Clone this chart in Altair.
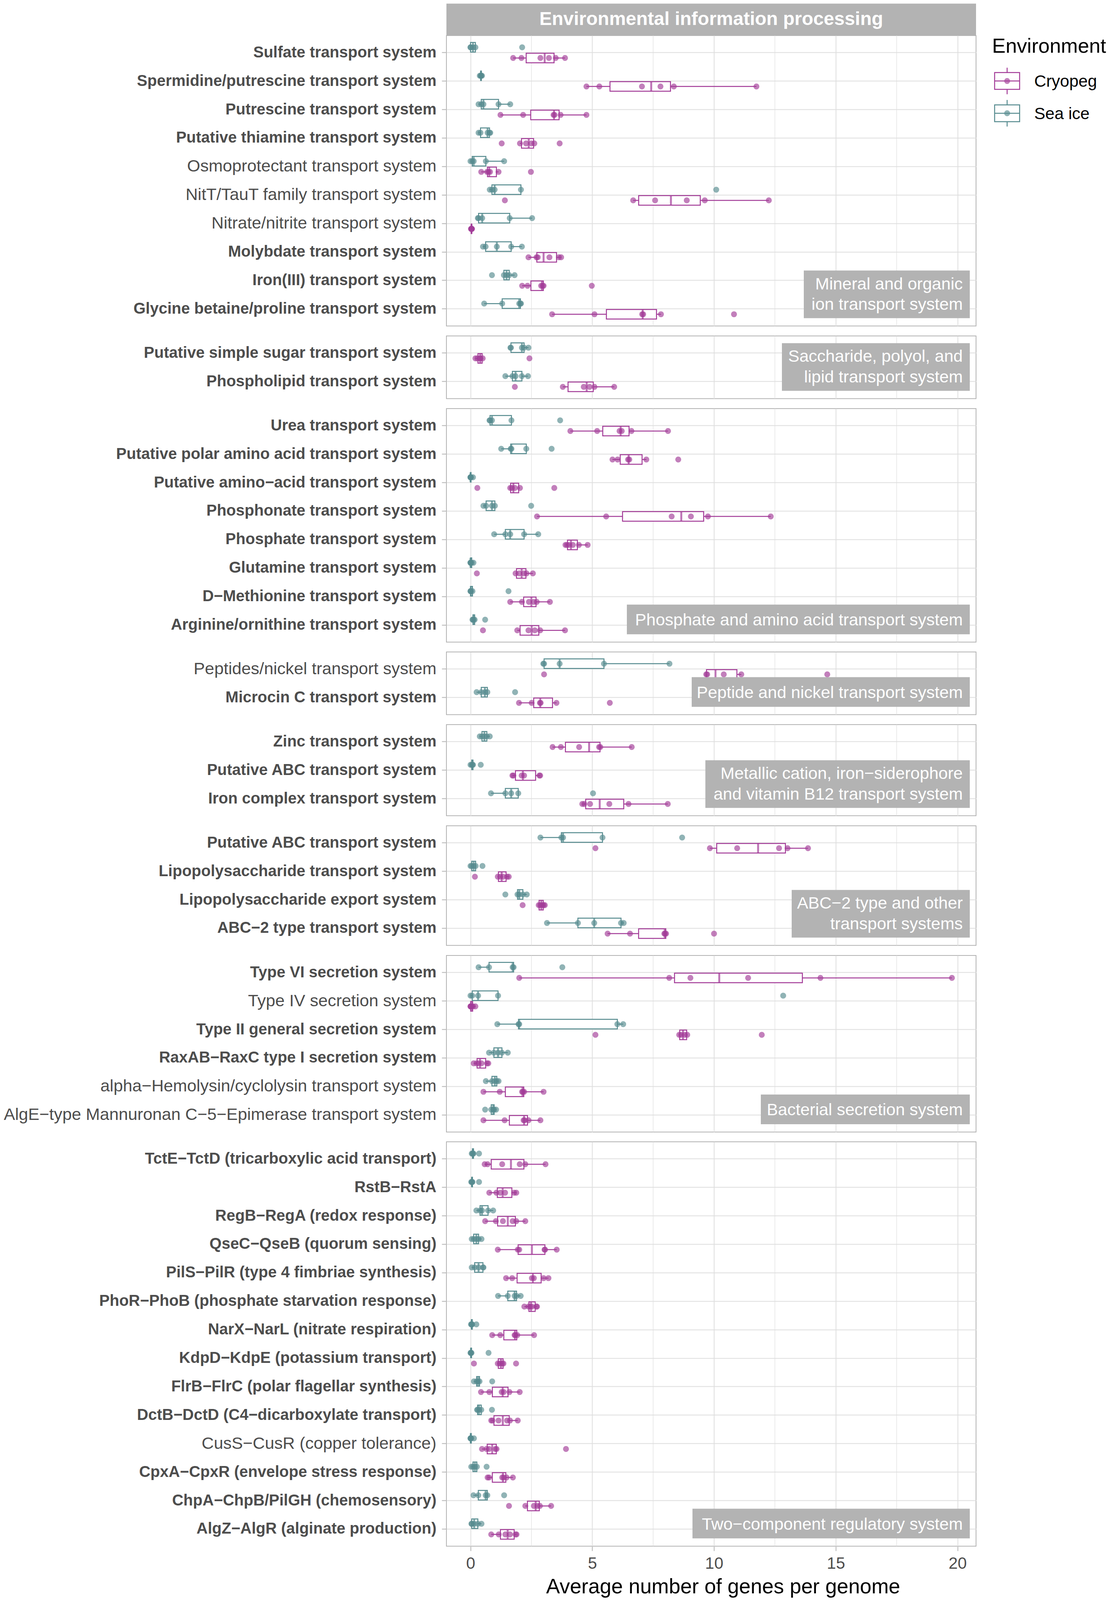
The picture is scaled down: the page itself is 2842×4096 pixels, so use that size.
import json
import numpy as np
import pandas as pd
import altair as alt

# ---------------- data ----------------
ENVS = ["Cryopeg", "Sea ice"]
ENV_COLORS = ["#A33C98", "#568B8F"]
X_TICKS = [0, 5, 10, 15, 20]
X_MINOR = [2.5, 7.5, 12.5, 17.5]
X_TITLE = "Average number of genes per genome"
HEADER = "Environmental information processing"
LEGEND_TITLE = "Environment"

p1_label = ["Mineral and organic", "ion transport system"]
p1_terms = ["Sulfate transport system", "Spermidine/putrescine transport system",
            "Putrescine transport system", "Putative thiamine transport system",
            "Osmoprotectant transport system", "NitT/TauT family transport system",
            "Nitrate/nitrite transport system", "Molybdate transport system",
            "Iron(III) transport system", "Glycine betaine/proline transport system"]
p1_cryopeg = [[1.75, 2.09, 2.87, 3.22, 3.50, 3.88], [4.76, 5.29, 7.04, 7.80, 8.35, 11.74],
              [1.23, 2.16, 3.41, 3.45, 3.70, 4.76], [1.28, 2.03, 2.28, 2.50, 2.62, 3.66],
              [0.44, 0.68, 0.74, 0.80, 1.15, 2.48], [1.41, 6.68, 7.58, 8.88, 9.62, 12.25],
              [0.02, 0.03, 0.04, 0.04, 0.05, 0.06], [2.38, 2.71, 2.76, 3.24, 3.63, 3.72],
              [2.12, 2.34, 2.90, 2.96, 3.00, 4.98], [3.35, 5.09, 7.05, 7.09, 7.82, 10.82]]
p1_seaice = [[0.0, 0.0, 0.10, 0.20, 2.12], [0.38, 0.42, 0.43, 0.44, 0.47],
             [0.33, 0.44, 0.53, 1.15, 1.63], [0.33, 0.41, 0.70, 0.78, 0.81],
             [0.0, 0.07, 0.13, 0.63, 1.38], [0.79, 0.88, 0.99, 2.07, 10.09],
             [0.30, 0.33, 0.48, 1.61, 2.53], [0.51, 0.62, 1.08, 1.67, 2.11],
             [0.88, 1.37, 1.48, 1.59, 1.81], [0.56, 1.30, 2.00, 2.05, 2.07]]

p2_label = ["Saccharide, polyol, and", "lipid transport system"]
p2_terms = ["Putative simple sugar transport system", "Phospholipid transport system"]
p2_cryopeg = [[0.20, 0.28, 0.38, 0.41, 0.50, 2.42], [1.82, 3.79, 4.65, 4.89, 5.09, 5.90]]
p2_seaice = [[1.64, 1.66, 2.11, 2.20, 2.38], [1.43, 1.72, 1.85, 2.11, 2.36]]

p3_label = ["Phosphate and amino acid transport system"]
p3_terms = ["Urea transport system", "Putative polar amino acid transport system",
            "Putative amino\u2212acid transport system", "Phosphonate transport system",
            "Phosphate transport system", "Glutamine transport system",
            "D\u2212Methionine transport system", "Arginine/ornithine transport system"]
p3_cryopeg = [[4.10, 5.20, 6.12, 6.21, 6.61, 8.11], [5.83, 6.04, 6.47, 6.52, 7.22, 8.53],
              [0.28, 1.63, 1.70, 1.82, 2.03, 3.44], [2.73, 5.57, 8.26, 9.05, 9.75, 12.33],
              [3.90, 3.96, 4.05, 4.20, 4.45, 4.81], [0.26, 1.85, 2.00, 2.20, 2.30, 2.56],
              [1.63, 2.11, 2.40, 2.60, 2.72, 3.26], [0.51, 1.92, 2.38, 2.64, 2.86, 3.88]]
p3_seaice = [[0.78, 0.80, 0.88, 1.68, 3.68], [1.26, 1.65, 1.68, 2.29, 3.33],
             [0.0, 0.0, 0.0, 0.02, 0.10], [0.53, 0.64, 0.88, 1.00, 2.49],
             [0.97, 1.43, 1.63, 2.20, 2.78], [0.0, 0.0, 0.0, 0.05, 0.12],
             [0.0, 0.0, 0.02, 0.08, 1.56], [0.08, 0.10, 0.13, 0.17, 0.60]]

p4_label = ["Peptide and nickel transport system"]
p4_terms = ["Peptides/nickel transport system", "Microcin C transport system"]
p4_cryopeg = [[3.02, 9.68, 9.72, 10.40, 11.12, 14.65], [1.99, 2.51, 2.85, 2.88, 3.53, 5.72]]
p4_seaice = [[2.99, 3.02, 3.66, 5.48, 8.17], [0.25, 0.44, 0.59, 0.69, 1.83]]

p5_label = ["Metallic cation, iron\u2212siderophore", "and vitamin B12 transport system"]
p5_terms = ["Zinc transport system", "Putative ABC transport system",
            "Iron complex transport system"]
p5_cryopeg = [[3.37, 3.71, 4.46, 5.28, 5.33, 6.62], [1.72, 1.76, 2.10, 2.20, 2.83, 2.86],
              [4.59, 4.67, 4.91, 5.70, 6.49, 8.10]]
p5_seaice = [[0.38, 0.47, 0.57, 0.67, 0.79], [0.0, 0.05, 0.08, 0.10, 0.42],
             [0.84, 1.43, 1.67, 1.96, 5.03]]

p6_label = ["ABC\u22122 type and other", "transport systems"]
p6_terms = ["Putative ABC transport system", "Lipopolysaccharide transport system",
            "Lipopolysaccharide export system", "ABC\u22122 type transport system"]
p6_cryopeg = [[5.13, 9.83, 10.95, 12.67, 13.02, 13.86], [0.18, 1.12, 1.22, 1.34, 1.50, 1.57],
              [2.14, 2.80, 2.86, 2.95, 3.00, 3.05], [5.63, 6.55, 7.96, 7.99, 8.03, 10.00]]
p6_seaice = [[2.87, 3.73, 3.80, 5.42, 8.69], [0.0, 0.05, 0.13, 0.21, 0.49],
             [1.43, 1.93, 2.00, 2.15, 2.31], [3.14, 4.41, 5.08, 6.18, 6.29]]

p7_label = ["Bacterial secretion system"]
p7_terms = ["Type VI secretion system", "Type IV secretion system",
            "Type II general secretion system", "RaxAB\u2212RaxC type I secretion system",
            "alpha\u2212Hemolysin/cyclolysin transport system",
            "AlgE\u2212type Mannuronan C\u22125\u2212Epimerase transport system"]
p7_cryopeg = [[2.00, 8.16, 9.03, 11.40, 14.37, 19.77], [0.0, 0.0, 0.02, 0.05, 0.10, 0.20],
              [5.13, 8.57, 8.65, 8.80, 8.90, 11.96], [0.13, 0.25, 0.33, 0.45, 0.68, 0.73],
              [0.53, 1.20, 2.12, 2.15, 2.20, 3.00], [0.53, 1.40, 2.18, 2.22, 2.38, 2.87]]
p7_seaice = [[0.33, 0.76, 1.73, 1.77, 3.77], [0.0, 0.07, 0.31, 1.13, 12.84],
             [1.10, 1.97, 2.00, 6.03, 6.27], [0.76, 0.96, 1.13, 1.29, 1.53],
             [0.63, 0.88, 1.00, 1.08, 1.15], [0.60, 0.85, 0.93, 0.97, 1.05]]

p8_label = ["Two\u2212component regulatory system"]
p8_terms = ["TctE\u2212TctD (tricarboxylic acid transport)", "RstB\u2212RstA",
            "RegB\u2212RegA (redox response)", "QseC\u2212QseB (quorum sensing)",
            "PilS\u2212PilR (type 4 fimbriae synthesis)",
            "PhoR\u2212PhoB (phosphate starvation response)",
            "NarX\u2212NarL (nitrate respiration)", "KdpD\u2212KdpE (potassium transport)",
            "FlrB\u2212FlrC (polar flagellar synthesis)",
            "DctB\u2212DctD (C4\u2212dicarboxylate transport)",
            "CusS\u2212CusR (copper tolerance)", "CpxA\u2212CpxR (envelope stress response)",
            "ChpA\u2212ChpB/PilGH (chemosensory)", "AlgZ\u2212AlgR (alginate production)"]
p8_cryopeg = [[0.58, 0.70, 1.30, 2.02, 2.25, 3.08], [0.77, 1.06, 1.22, 1.42, 1.79, 1.88],
              [0.60, 1.04, 1.33, 1.73, 1.88, 2.25], [1.12, 1.94, 2.00, 3.04, 3.06, 3.54],
              [1.46, 1.71, 2.52, 2.60, 3.00, 3.20], [2.21, 2.38, 2.45, 2.52, 2.70, 2.73],
              [0.89, 1.22, 1.81, 1.84, 1.92, 2.61], [0.14, 1.12, 1.20, 1.30, 1.35, 1.87],
              [0.43, 0.77, 1.28, 1.36, 1.60, 2.02], [0.85, 0.90, 1.15, 1.50, 1.62, 1.94],
              [0.47, 0.66, 0.76, 1.02, 1.07, 3.92], [0.70, 0.76, 1.30, 1.36, 1.48, 1.74],
              [1.58, 2.25, 2.60, 2.75, 2.85, 3.31], [0.85, 1.16, 1.43, 1.62, 1.85, 1.89]]
p8_seaice = [[0.05, 0.08, 0.10, 0.12, 0.35], [0.03, 0.05, 0.06, 0.08, 0.35],
             [0.24, 0.39, 0.47, 0.72, 0.93], [0.05, 0.13, 0.24, 0.33, 0.45],
             [0.05, 0.17, 0.33, 0.51, 0.53], [1.13, 1.53, 1.81, 1.89, 2.06],
             [0.02, 0.04, 0.05, 0.07, 0.24], [0.0, 0.01, 0.02, 0.04, 0.74],
             [0.14, 0.25, 0.31, 0.37, 0.89], [0.27, 0.29, 0.35, 0.44, 0.88],
             [0.0, 0.0, 0.01, 0.03, 0.14], [0.03, 0.10, 0.18, 0.26, 0.66],
             [0.12, 0.32, 0.62, 0.69, 1.38], [0.04, 0.05, 0.15, 0.30, 0.45]]

PLAIN_LABELS = ["Osmoprotectant transport system", "NitT/TauT family transport system",
                "Nitrate/nitrite transport system", "Peptides/nickel transport system",
                "Type IV secretion system", "alpha\u2212Hemolysin/cyclolysin transport system",
                "AlgE\u2212type Mannuronan C\u22125\u2212Epimerase transport system",
                "CusS\u2212CusR (copper tolerance)"]

PANELS = [(p1_label, p1_terms, p1_cryopeg, p1_seaice),
          (p2_label, p2_terms, p2_cryopeg, p2_seaice),
          (p3_label, p3_terms, p3_cryopeg, p3_seaice),
          (p4_label, p4_terms, p4_cryopeg, p4_seaice),
          (p5_label, p5_terms, p5_cryopeg, p5_seaice),
          (p6_label, p6_terms, p6_cryopeg, p6_seaice),
          (p7_label, p7_terms, p7_cryopeg, p7_seaice),
          (p8_label, p8_terms, p8_cryopeg, p8_seaice)]

# ---------------- layout / style ----------------
STEP = 72.9
W = 1356
GAP = 25
GRID = "#DEDEDE"
BORDER = "#B3B3B3"
STRIP = "#B3B3B3"
TXT = "#4D4D4D"
FONT = "Liberation Sans"
XDOM = [-0.99, 20.76]
BOX_H = 24.5
HEADER_H = 81.8
PT_SIZE = 175
PT_OPACITY = 0.65
LBL_W = [425, 481, 878, 712, 677, 456, 535, 710]
LBL_RIGHT_INSET = 16
LBL_BOTTOM_INSET = 20
LBL_PAD = 18

# ---------------- derived tables ----------------
rows = []
stats = []
for pi, (_, terms, cryo, sea) in enumerate(PANELS):
    for t, cv, sv in zip(terms, cryo, sea):
        for env, vals in (("Cryopeg", cv), ("Sea ice", sv)):
            v = np.array(vals, dtype=float)
            for x in v:
                rows.append({"panel": pi, "Term": t, "Environment": env, "value": x})
            q1, med, q3 = np.percentile(v, [25, 50, 75])
            iqr = q3 - q1
            lo = v[v >= q1 - 1.5 * iqr].min()
            hi = v[v <= q3 + 1.5 * iqr].max()
            stats.append({"panel": pi, "Term": t, "Environment": env,
                          "q1": q1, "med": med, "q3": q3, "lo": lo, "hi": hi})
pts = pd.DataFrame(rows)
st = pd.DataFrame(stats)

color_scale = alt.Scale(domain=ENVS, range=ENV_COLORS)
test = "indexof(%s, datum.value) >= 0" % json.dumps(PLAIN_LABELS, ensure_ascii=False)


def make_panel(pi):
    label, terms, _, _ = PANELS[pi]
    n = len(terms)
    H = STEP * (n + 0.2)
    last = pi == len(PANELS) - 1
    xscale = alt.Scale(domain=XDOM, nice=False, zero=False)
    if last:
        xaxis = alt.Axis(values=X_TICKS, grid=True, gridColor=GRID, gridWidth=2,
                         domain=False, ticks=True, tickColor=BORDER, tickSize=12,
                         tickWidth=2, labelFontSize=42, labelColor=TXT, labelPadding=12,
                         labelFlush=False, titleFontSize=53, titleColor="black",
                         titleFontWeight="normal", titlePadding=13, titleX=708)
        xtitle = X_TITLE
    else:
        xaxis = alt.Axis(values=X_TICKS, grid=True, gridColor=GRID, gridWidth=2,
                         domain=False, ticks=False, labels=False)
        xtitle = None
    yaxis = alt.Axis(grid=True, gridColor=GRID, gridWidth=2, bandPosition=0.5,
                     domain=False, ticks=True, tickColor=BORDER, tickSize=12, tickWidth=2,
                     labelColor=TXT, labelLimit=0, labelPadding=14,
                     labelFontWeight={"condition": {"test": test, "value": "normal"}, "value": "bold"},
                     labelFontSize={"condition": {"test": test, "value": 43.2}, "value": 40})
    yenc = alt.Y("Term:N", title=None, axis=yaxis,
                 scale=alt.Scale(type="band", domain=terms, paddingInner=0.25, paddingOuter=0.225))
    yoff = alt.YOffset("Environment:N",
                       scale=alt.Scale(type="band", domain=["Sea ice", "Cryopeg"],
                                       paddingInner=0, paddingOuter=0))
    col = alt.Color("Environment:N", scale=color_scale, legend=None)
    strk = alt.Stroke("Environment:N", scale=color_scale, legend=None)

    def X(f):
        return alt.X(f, scale=xscale, axis=xaxis, title=xtitle)

    pdat = pts[pts.panel == pi]
    sdat = st[st.panel == pi]

    minor = alt.Chart(pd.DataFrame({"v": X_MINOR})).mark_rule(
        color=GRID, strokeWidth=1.2).encode(x=X("v:Q"))
    whisk = alt.Chart(sdat).mark_rule(strokeWidth=2.5).encode(
        x=X("lo:Q"), x2="hi:Q", y=yenc, yOffset=yoff, color=col)
    box = alt.Chart(sdat).mark_bar(size=BOX_H, fill="white", strokeWidth=2.5).encode(
        x=X("q1:Q"), x2="q3:Q", y=yenc, yOffset=yoff, stroke=strk)
    med = alt.Chart(sdat).mark_tick(size=BOX_H, thickness=5).encode(
        x=X("med:Q"), y=yenc, yOffset=yoff, color=col)
    dots = alt.Chart(pdat).mark_circle(size=PT_SIZE, opacity=PT_OPACITY, strokeWidth=2).encode(
        x=X("value:Q"), y=yenc, yOffset=yoff, color=col, stroke=strk)

    layers = [minor, whisk, box, med, dots]

    # panel label box
    bh = 122 if len(label) == 2 else 76
    right = W - LBL_RIGHT_INSET
    top = H - LBL_BOTTOM_INSET - bh
    ldf = pd.DataFrame({"label": [" ".join(label)]})
    layers.append(alt.Chart(ldf).mark_rect(color=STRIP).encode(
        x=alt.value(right - LBL_W[pi]), x2=alt.value(right),
        y=alt.value(top), y2=alt.value(top + bh)))
    baselines = [48, 100.5] if len(label) == 2 else [53.4]
    for line, b in zip(label, baselines):
        layers.append(alt.Chart(pd.DataFrame({"t": [line]})).mark_text(
            align="right", baseline="alphabetic", fontSize=43, color="white").encode(
            x=alt.value(right - LBL_PAD), y=alt.value(top + b), text="t:N"))

    if pi == 0:
        hdf = pd.DataFrame({"t": [HEADER]})
        layers.append(alt.Chart(hdf).mark_rect(color=STRIP).encode(
            x=alt.value(0), x2=alt.value(W), y=alt.value(-HEADER_H), y2=alt.value(0)))
        layers.append(alt.Chart(hdf).mark_text(
            align="center", baseline="alphabetic", fontSize=48, fontWeight="bold",
            color="white").encode(x=alt.value(W / 2), y=alt.value(-26.6), text="t:N"))
        # legend
        layers.append(alt.Chart(pd.DataFrame({"t": [LEGEND_TITLE]})).mark_text(
            align="left", baseline="alphabetic", fontSize=52, color="black").encode(
            x=alt.value(1397), y=alt.value(43.8), text="t:N"))
        cx = 1435.6
        for i, env in enumerate(ENVS):
            cy = [116.3, 198.9][i]
            d = alt.Chart(pd.DataFrame({"Environment": [env]}))
            layers.append(d.mark_rule(strokeWidth=2.5).encode(
                x=alt.value(cx), y=alt.value(cy - 34), y2=alt.value(cy + 34), color=col))
            layers.append(d.mark_rect(fill="white", strokeWidth=2.5).encode(
                x=alt.value(cx - 32), x2=alt.value(cx + 32),
                y=alt.value(cy - 21.5), y2=alt.value(cy + 21.5), stroke=strk))
            layers.append(d.mark_rule(strokeWidth=2.5).encode(
                x=alt.value(cx - 32), x2=alt.value(cx + 32), y=alt.value(cy), color=col))
            layers.append(d.mark_circle(size=PT_SIZE, opacity=PT_OPACITY, strokeWidth=2).encode(
                x=alt.value(cx), y=alt.value(cy), color=col, stroke=strk))
            layers.append(d.mark_text(align="left", baseline="alphabetic", fontSize=42.5,
                                      color="black").encode(
                x=alt.value(1505), y=alt.value(cy + 15.1), text="Environment:N"))

    return alt.layer(*layers).properties(width=W, height=H)


panels = [make_panel(i) for i in range(len(PANELS))]

chart = alt.vconcat(*panels, spacing=GAP, bounds="flush").resolve_scale(
    x="independent", y="independent"
).properties(
    padding={"left": 0, "top": 0, "right": 0, "bottom": 0}
).configure(font=FONT).configure_view(stroke=BORDER, strokeWidth=2).configure_axis(
    labelFont=FONT, titleFont=FONT
)

chart.save("out.html", embed_options={"renderer": "svg", "actions": False})
